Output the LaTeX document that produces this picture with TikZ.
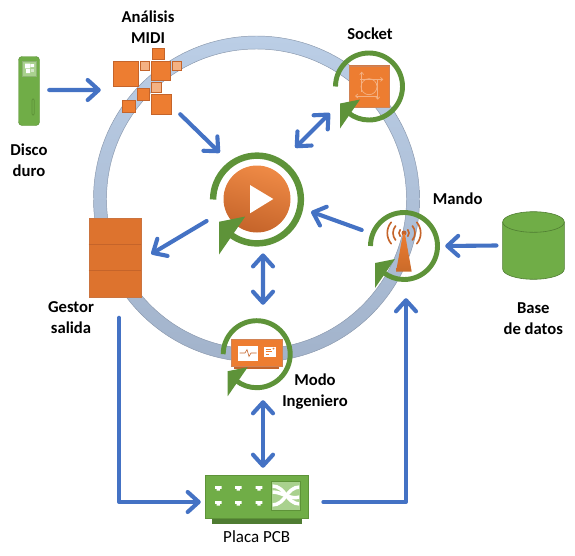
\documentclass[tikz,border=0pt]{standalone}
\usepackage{fontspec}
\setmainfont{Carlito}
\usetikzlibrary{arrows.meta}
\definecolor{flowblue}{HTML}{4472C4}
\definecolor{leaf}{HTML}{70AD47}
\definecolor{leafdark}{HTML}{5E9339}
\definecolor{leafedge}{HTML}{4F7C32}
\definecolor{leaflight}{HTML}{A9D18E}
\definecolor{peel}{HTML}{ED7D31}
\definecolor{peeldark}{HTML}{C5642A}
\definecolor{peellight}{HTML}{F4B183}
\definecolor{ringtop}{HTML}{BBCEE6}
\definecolor{ringbottom}{HTML}{A2B3CB}
\newcommand{\cycleicon}[4]{
	\node[circle, inner sep=0pt, minimum size=#4*72*0.03cm] (#1) at (#2,#3) {};
	\begin{scope}[shift={(#2,#3)}, scale=#4]
		\draw[leafdark, line width=#4*4.2pt] (180:33.5) arc[start angle=180, end angle=488, radius=33.5];
		\fill[leafdark] (-29,17) -- (-9,13) -- (-29,42) -- cycle;
	\end{scope}
}

\begin{document}
\begin{tikzpicture}[x=0.03cm,y=-0.03cm,>={Straight Barb[length=0.33cm,width=0.6cm,round]},
	flow/.style={draw=flowblue, line width=3.5pt, line cap=round, line join=round},
	bold/.style={align=center, inner sep=0pt, font=\fontsize{14.2}{17.9}\selectfont\bfseries},
	tile/.style={fill=peel, draw=peeldark, line width=0.7pt},
	lighttile/.style={fill=peellight, draw=peeldark, line width=0.6pt},
	panel/.style={inner sep=0pt, rectangle}]
	\useasboundingbox (0,0) rectangle (575,556);

	\shade[even odd rule, top color=ringtop, bottom color=ringbottom] (256.5,199) circle[radius=163] (256.5,199) circle[radius=150];
	\draw[ringbottom!85!black, line width=0.4pt] (256.5,199) circle[radius=163] (256.5,199) circle[radius=150];

	\node[panel, minimum width=21*0.03cm, minimum height=69*0.03cm, fill=leaf, draw=leafdark, rounded corners=3pt] (disco) at (29,91) {};
	\filldraw[fill=leaflight, draw=leafdark!70, line width=0.4pt] (22,61) rectangle (36,76);
	\fill[white] (25,63.5) rectangle (30,68.3) (30.5,64) rectangle (34,67) (26,69) rectangle (30,73);
	\fill[white!70!leaf] (30.8,69.3) rectangle (33.5,72);
	\draw[leafdark, line width=0.6pt, rounded corners=1pt] (32,99) rectangle (34.3,115);

	\node[panel, minimum width=68*0.03cm, minimum height=66.5*0.03cm] (analisis) at (147.5,81.25) {};
	\draw[tile] (113.5,61.5) rectangle (138,86);
	\draw[tile] (152,48) rectangle (164,59.5);
	\draw[tile] (151,61.5) rectangle (170.5,80.5);
	\draw[tile] (137.5,88) rectangle (149.5,100);
	\draw[tile] (122.5,100) rectangle (135,112.5);
	\draw[tile] (151.5,94.5) rectangle (171.5,114.5);
	\draw[lighttile] (140,61.5) rectangle (149,70.5);
	\draw[lighttile] (172.5,61.5) rectangle (181.5,70.5);
	\draw[lighttile] (151.5,82.5) rectangle (161,92.5);

	\fill[peel] (349,65) rectangle (389.5,107);
	\fill[peeldark!85] (349,65) rectangle (389.5,66.5);
	\draw[peeldark!80, line width=0.6pt] (349,66) rectangle (389.5,107);
	\begin{scope}[shift={(369,86.7)}, draw=peellight, line width=0.6pt, >={Straight Barb[length=0.07cm,width=0.12cm]}]
		\draw (0,0) circle[radius=8];
		\draw[->] (-7.3,5) -- (-7.3,-15);
		\draw[->] (-9,-7.3) -- (14.3,-7.3);
		\draw[->] (8.7,-7) -- (8.7,13);
		\draw[->] (7.7,9.3) -- (-14,9.3);
	\end{scope}
	\cycleicon{socket}{369}{86.5}{1}

	\shade[top color=peel!90!white, bottom color=peeldark, shading angle=-15] (257,199) circle[radius=33.5];
	\fill[white] (250,185) -- (273.3,199) -- (250,213.3) -- cycle;
	\cycleicon{play}{257}{199.5}{1.31}

	\begin{scope}[draw=peeldark, line width=1.4pt, line cap=round]
		\foreach \rad in {5,11,16.7} {
			\draw (404,233) ++(140:\rad) arc[start angle=140, end angle=220, radius=\rad];
			\draw (404,233) ++(-40:\rad) arc[start angle=-40, end angle=40, radius=\rad];
		}
	\end{scope}
	\fill[peeldark] (404,233) circle[radius=2.5];
	\shade[top color=peel, bottom color=peel!85!black] (403,234) -- (405,234) -- (411.7,271.7) -- (396,271.7) -- cycle;
	\cycleicon{mando}{404}{246}{1}

	\fill[peeldark] (234.3,366) rectangle (279.3,369.3);
	\node[panel, minimum width=51.4*0.03cm, minimum height=26.7*0.03cm, fill=peel, draw=peeldark!80, line width=0.5pt] (modobox) at (257,352.65) {};
	\fill[white] (238.3,345.7) rectangle (257.7,360.7);
	\draw[peeldark, line width=0.5pt] (239.5,353) -- (245,353) -- (247,349.5) -- (249,356.5) -- (251,353) -- (256.5,353);
	\fill[white] (264,346.7) rectangle (276,357.3);
	\draw[peel, line width=0.5pt] (265.5,349) -- (271,349) (265.5,351.5) -- (272,351.5) (265.5,354) -- (269,354);
	\fill[peel] (273.5,348.5) circle[radius=1];
	\cycleicon{modo}{256.7}{354.2}{1}

	\node[panel, minimum width=52.3*0.03cm, minimum height=79*0.03cm, fill=peel!60!peeldark, draw=peeldark!90, line width=0.5pt] (gestor) at (115,257.5) {};
	\draw[peeldark, line width=1pt] (gestor.west |- 0,244.7) -- (gestor.east |- 0,244.7);
	\draw[peeldark, line width=1pt] (gestor.west |- 0,270.7) -- (gestor.east |- 0,270.7);

	\node[panel, minimum width=61.6*0.03cm, minimum height=67.6*0.03cm] (base) at (533.5,245.5) {};
	\filldraw[fill=leaf, draw=leafedge, line width=0.5pt] (502.7,222) -- (502.7,269) arc[start angle=180, end angle=0, x radius=30.8, y radius=10.3] -- (564.3,222) arc[start angle=0, end angle=-180, x radius=30.8, y radius=10.3] -- cycle;
	\draw[leafedge, line width=0.5pt] (502.7,222) arc[start angle=180, end angle=0, x radius=30.8, y radius=10.3];

	\fill[leafedge] (211.7,518) rectangle (301.7,523.5);
	\node[panel, minimum width=103.3*0.03cm, minimum height=43.3*0.03cm, fill=leaf, draw=leafdark, line width=0.5pt] (pcb) at (256.7,496.7) {};
	\foreach \px in {218.3,238.3,259} {
		\foreach \py in {488.3,503.3} {
			\fill[white] (\px-3.3,\py-2.2) -- (\px+3.3,\py-2.2) -- (\px+3.3,\py+0.5) -- (\px+1.6,\py+0.5) -- (\px+1.6,\py+2.2) -- (\px-1.6,\py+2.2) -- (\px-1.6,\py+0.5) -- (\px-3.3,\py+0.5) -- cycle;
		}
	}
	\filldraw[fill=leaflight, draw=leafdark, line width=0.5pt] (271.7,481.7) rectangle (300,510);
	\begin{scope}
		\clip (272.5,482.5) rectangle (299.2,509.2);
		\draw[white, line width=3pt] (272,486) .. controls (286,486) and (286,504) .. (300,504);
		\draw[white, line width=3pt] (272,492) .. controls (283,492) and (289,500) .. (300,497);
		\draw[white, line width=3pt] (272,505) .. controls (286,505) and (286,487) .. (300,487);
	\end{scope}

	\node[bold] (analisislabel) at (148,27.5) {Análisis\\MIDI};
	\node[bold] (discolabel) at (29,160.5) {Disco\\duro};
	\node[bold] (socketlabel) at (370,33.3) {Socket};
	\node[bold] (mandolabel) at (457.7,198.3) {Mando};
	\node[bold] (baselabel) at (533.3,318.5) {Base\\de datos};
	\node[bold] (gestorlabel) at (71,317.5) {Gestor\\salida};
	\node[bold] (modolabel) at (315,391.7) {Modo\\Ingeniero};
	\node[inner sep=0pt, font=\fontsize{14.5}{17.9}\selectfont] (pcblabel) at (256.7,536.7) {Placa PCB};

	\draw[flow,->] ([shift={(9.5,-1)}]disco.east) -- ([shift={(-12.5,8.75)}]analisis.west);
	\draw[flow,->] ([shift={(-1.5,-0.5)}]analisis.south east) -- ([shift={(-6.8,-10.5)}]play.130);
	\draw[flow,<->] ([shift={(4.8,-18.3)}]play.45) -- ([shift={(-13.5,1)}]socket.225);
	\draw[flow,->] ([shift={(-6,-16)}]mando.west) -- ([shift={(6.7,12.2)}]play.east);
	\draw[flow,->] ([shift={(-3,21.5)}]play.west) -- ([shift={(9.8,-3.5)}]gestor.east);
	\draw[flow,<->] ([shift={(6,6.5)}]play.south) -- ([shift={(6.3,-13.2)}]modo.north);
	\draw[flow,<->] ([shift={(6.3,9.8)}]modo.south) -- ([shift={(6.3,-7)}]pcb.north);
	\draw[flow,->] ([shift={(4,20.5)}]gestor.south) |- ([shift={(-4,5.3)}]pcb.west);
	\draw[flow,->] ([shift={(14.7,5.3)}]pcb.east) -| ([shift={(2,16)}]mando.south);
	\draw[flow,->] ([shift={(-6,0)}]base.west) -- ([shift={(5,0)}]mando.east);
\end{tikzpicture}
\end{document}
